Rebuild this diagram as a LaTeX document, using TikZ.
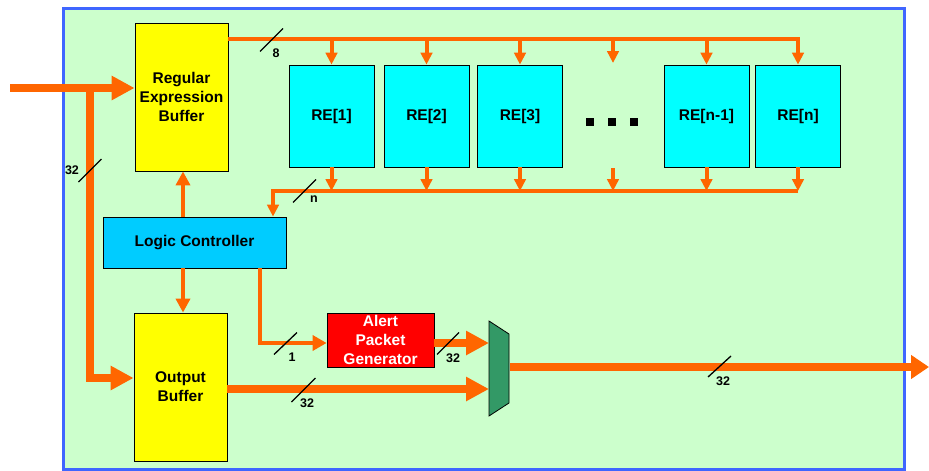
\documentclass[tikz,border=0pt]{standalone}
\usepackage{fontspec}
\setmainfont{Liberation Sans}
\usetikzlibrary{arrows.meta}
\definecolor{bgreen}{HTML}{CCFFCC}
\definecolor{bblue}{HTML}{3F66FF}
\definecolor{orng}{HTML}{FF6600}
\definecolor{ylw}{HTML}{FFFF00}
\definecolor{cyn}{HTML}{00FFFF}
\definecolor{lcblue}{HTML}{00CCFF}
\definecolor{rd}{HTML}{FF0000}
\definecolor{muxg}{HTML}{339966}
\tikzset{
  box/.style={draw=black, line width=0.8pt, inner sep=0pt, align=center,
    font=\fontsize{15.5}{19}\selectfont\bfseries},
  rebox/.style={box, fill=cyn, minimum width=85pt, minimum height=102pt},
  bus/.style={draw=orng, line width=4pt},
  busarrow/.style={bus, -{Triangle[width=11.5pt,length=12pt]}},
  bigbusarrow/.style={bus, -{Triangle[width=14pt,length=14pt]}},
  fat/.style={draw=orng, line width=8pt},
  fatarrow/.style={fat, -{Triangle[width=23pt,length=23pt]}},
  slashline/.style={draw=black, line width=1.3pt},
  lbl/.style={font=\fontsize{12.5}{14}\selectfont\bfseries, inner sep=0pt}
}
\begin{document}
\begin{tikzpicture}[x=1pt,y=-1pt]
\useasboundingbox (0,0) rectangle (929,471);
% frame
\draw[bblue, line width=3pt, fill=bgreen] (63,8) rectangle (904,469);

% nodes
\node[box, fill=ylw, minimum width=93pt, minimum height=148pt] (reb) at (181.5,97) {Regular\\Expression\\Buffer};
\node[rebox] (re1) at (331.5,116) {RE[1]};
\node[rebox] (re2) at (426.5,116) {RE[2]};
\node[rebox] (re3) at (520,116) {RE[3]};
\node[rebox] (ren1) at (706.5,116) {RE[n-1]};
\node[rebox] (ren) at (798,116) {RE[n]};
\node[box, fill=lcblue, minimum width=183pt, minimum height=51pt] (lc) at (194.5,242.5) {Logic Controller};
\node[box, fill=ylw, minimum width=93pt, minimum height=148pt] (ob) at (180.5,387) {Output\\Buffer};
\node[box, fill=rd, text=white, minimum width=107pt, minimum height=54pt] (apg) at (380.5,340) {Alert\\Packet\\Generator};

% dots
\foreach \x in {590,612,634} \fill[black] (\x-4,118) rectangle (\x+4,126);

% multiplexer
\draw[line width=0.8pt, fill=muxg] (489,321) -- (509,334) -- (509,403) -- (489,416) -- cycle;
\coordinate (muxa) at (489,343);
\coordinate (muxb) at (489,389);
\coordinate (muxo) at (510,367);
\coordinate (outp) at (929,367);

% input
\coordinate (in) at (10,88);
\coordinate (br) at (90,88);
\draw[fatarrow] (in) -- (in -| reb.west);
\draw[fatarrow] (br) |- ([yshift=9pt]ob.west);

% top bus
\coordinate (tb) at (reb.east |- 0,39);
\draw[busarrow] (tb) -| (ren.north);
\foreach \n in {re1,re2,re3,ren1} \draw[busarrow] (\n.north |- tb) -- (\n.north);
\coordinate (tbd) at (613,39);
\draw[busarrow] (tbd) -- (613,63);

% bottom bus
\coordinate (bb) at (273,191);
\foreach \n in {re1,re2,re3,ren1,ren} \draw[busarrow] (\n.south) -- (\n.south |- bb);
\coordinate (bbd) at (613,168);
\draw[busarrow] (bbd) -- (bbd |- bb);
\draw[busarrow] (ren.south |- bb) -- (bb) -- (lc.north -| bb);

% controller links
\draw[bigbusarrow] (lc.north -| 183,0) -- (reb.south -| 183,0);
\draw[bigbusarrow] (lc.south -| 183,0) -- (ob.north -| 183,0);
\draw[bus, -{Triangle[width=15pt,length=14pt]}] (lc.south -| 260,0) |- ([yshift=-3pt]apg.west);

% to mux
\draw[fatarrow] ([yshift=-3pt]apg.east) -- (muxa);
\draw[fatarrow] (ob.east |- muxb) -- (muxb);
\draw[fat, -{Triangle[width=23pt,length=18pt]}] (muxo) -- (outp);

% bus width slashes and labels
\draw[slashline] (271.5,40) ++(-11.5,11.5) -- ++(23,-23);
\node[lbl] (l8) at (276,53) {8};
\draw[slashline] (90,170.5) ++(-11.5,11.5) -- ++(23,-23);
\node[lbl] (l32a) at (72,170) {32};
\draw[slashline] (304.5,191) ++(-11.5,11.5) -- ++(23,-23);
\node[lbl] (ln) at (314,199) {n};
\draw[slashline] (285.5,343.5) ++(-11.5,11) -- ++(23,-22);
\node[lbl] (l1) at (292,357) {1};
\draw[slashline] (448,343.5) ++(-11,11) -- ++(22,-22);
\node[lbl] (l32b) at (453,358) {32};
\draw[slashline] (303.5,390) ++(-12,12) -- ++(24,-24);
\node[lbl] (l32c) at (307,403) {32};
\draw[slashline] (719.5,366.5) ++(-11.5,10.5) -- ++(23,-21);
\node[lbl] (l32d) at (723,381) {32};
\end{tikzpicture}
\end{document}
